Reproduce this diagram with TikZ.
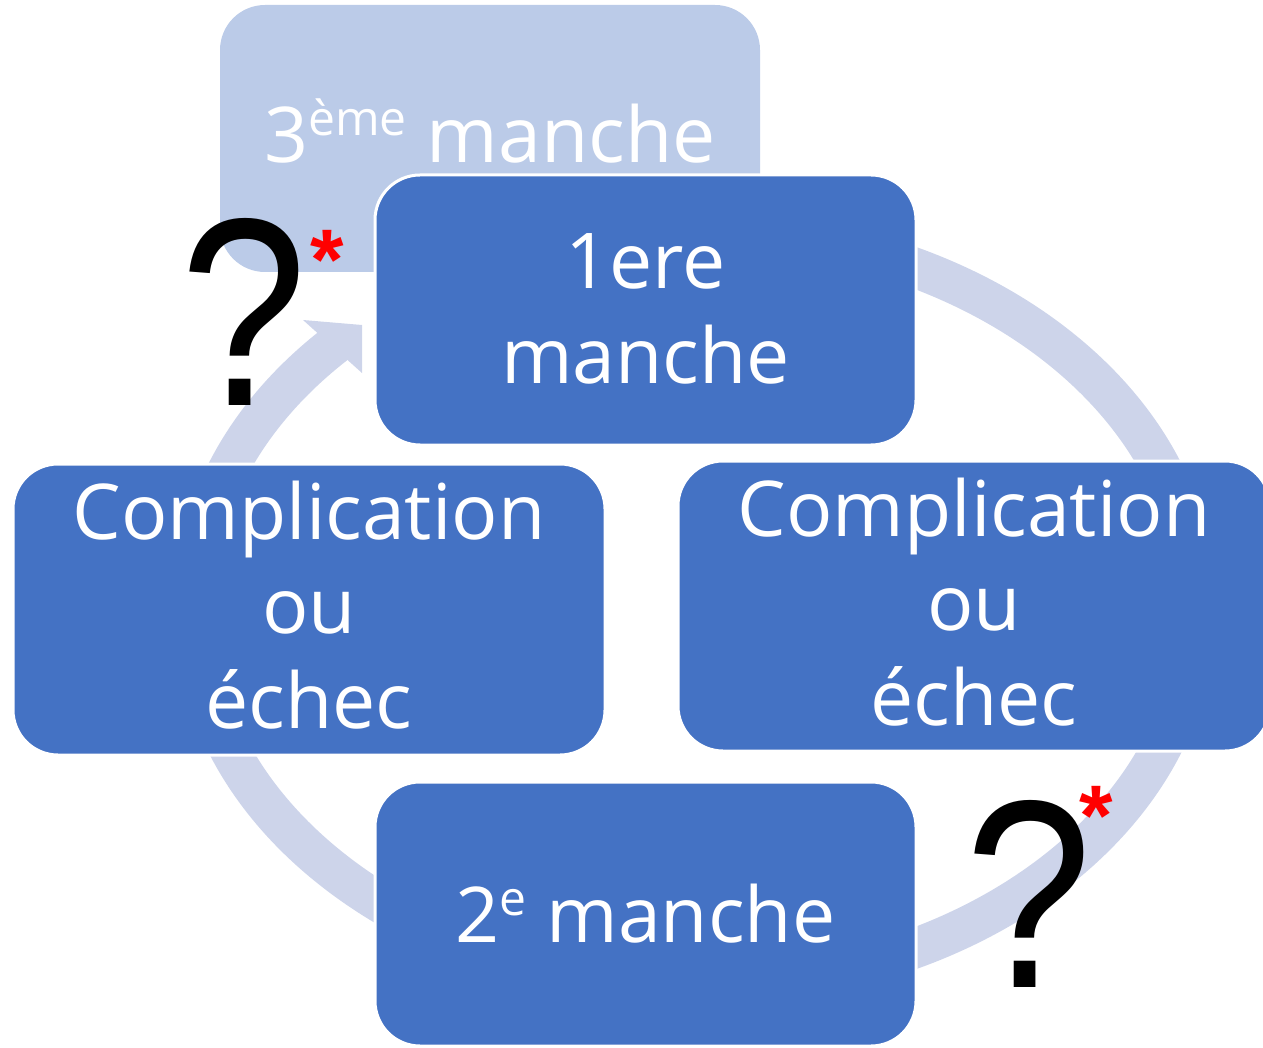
\documentclass[tikz,border=0pt]{standalone}
\usepackage{fontspec}
\setmainfont{Open Sans}
\newfontfamily\qfont{Liberation Sans}
\usetikzlibrary{calc}
\definecolor{boxblue}{HTML}{4472C4}
\definecolor{fadeblue}{HTML}{BBCBE8}
\definecolor{ringcol}{HTML}{CDD4EA}
\newcommand{\mysup}[1]{\raisebox{27pt}{\fontsize{48}{48}\selectfont #1}}
\begin{document}
\begin{tikzpicture}[x=1pt,y=-1pt,
  box/.style={draw=white, line width=3pt, fill=boxblue, rounded corners=45pt, inner sep=0pt},
  boxtext/.style={text=white, align=center, font=\fontsize{77}{94.5}\selectfont, inner sep=0pt, anchor=base},
  qmark/.style={font=\qfont\fontsize{268}{268}\selectfont, anchor=base, inner sep=0pt},
  star/.style={text=red, font=\qfont\bfseries\fontsize{86}{86}\selectfont, anchor=base, inner sep=0pt}]
\clip (0,0) rectangle (1263,1048);
% faded third round
\node[box, fill=fadeblue, draw=none, minimum width=540pt, minimum height=267pt] (third) at (490,138.5) {};
\node[boxtext] (third-t) at (490,163) {3\mysup{ème} manche};
% ring with arrow head
\coordinate (rc) at (695,608);
\draw[ringcol, line width=40pt] ($(rc)+(225:501.7 and 378.5)$) arc[start angle=225, end angle=-80, x radius=501.7, y radius=378.5];
\coordinate (h1) at (303,320);
\coordinate (h2) at (362,325);
\coordinate (h3) at (362,373);
\fill[ringcol] (h1) -- (h2) -- (h3) -- cycle;
% boxes (last-line baselines)
\node[box, minimum width=541pt, minimum height=270pt] (first) at (645.5,310) {};
\node[boxtext] (first-t) at (645.5,383) {1ere\\manche};
\node[box, minimum width=592pt, minimum height=291pt] (left) at (309,609.5) {};
\node[boxtext] (left-t) at (309,728) {Complication\\ou\\échec};
\node[box, minimum width=592pt, minimum height=290pt] (right) at (974,606) {};
\node[boxtext] (right-t) at (974,725) {Complication\\ou\\échec};
\node[box, minimum width=541pt, minimum height=264pt] (second) at (645.5,914) {};
\node[boxtext] (second-t) at (645.5,942) {2\mysup{e} manche};
% question marks
\node[qmark] (q1) at (243.5,405) {\scalebox{0.85}[1]{?}};
\node[star] (s1) at (327.5,290) {*};
\node[qmark] (q2) at (1028.5,987) {\scalebox{0.85}[1]{?}};
\node[star] (s2) at (1096,845) {*};
\end{tikzpicture}
\end{document}
